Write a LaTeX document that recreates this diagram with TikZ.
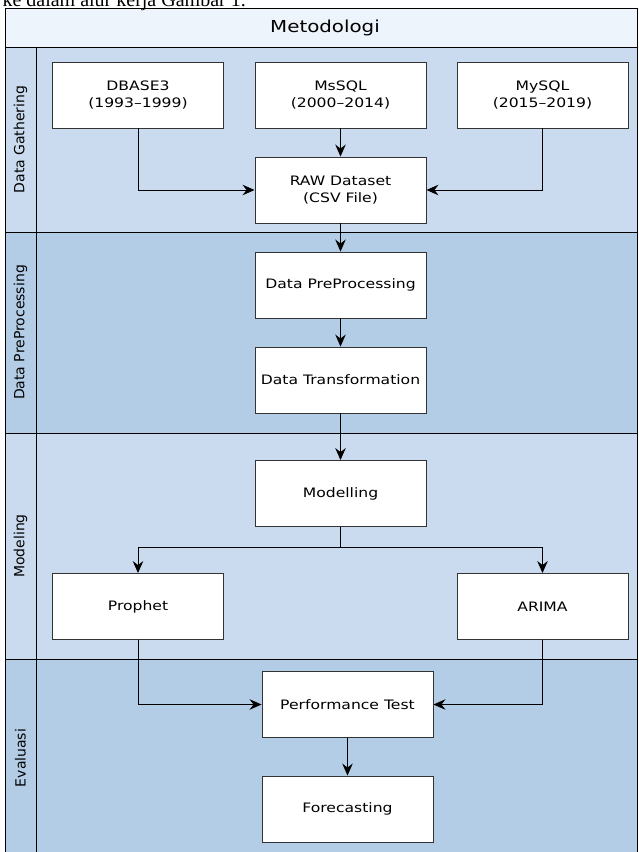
\documentclass[tikz,border=0pt]{standalone}
\usepackage{fontspec}
\setmainfont{DejaVu Sans}
\newfontfamily\boxfont{DejaVu Sans}[FakeStretch=1.2]
\newfontfamily\bodyserif{Liberation Serif}
\usetikzlibrary{arrows.meta}
\definecolor{titlefill}{RGB}{238,244,251}
\definecolor{lanelight}{RGB}{203,219,239}
\definecolor{lanedark}{RGB}{179,205,230}
\definecolor{boxline}{RGB}{51,51,51}

\begin{document}
\begin{tikzpicture}[x=1pt, y=-1pt,
    proc/.style={draw=boxline, fill=white, line width=0.9pt, minimum width=171pt,
      minimum height=66pt, align=center, inner sep=0pt, font=\boxfont\fontsize{13}{17}\selectfont},
    lanelabel/.style={rotate=90, font=\fontsize{14}{16}\selectfont},
    flow/.style={line width=0.9pt, -{Stealth[length=12pt, width=10.5pt, inset=4pt]}},
    border/.style={line width=0.9pt}]
    \clip (0,0) rectangle (638,852);
    % swimlanes
    \fill[titlefill] (5,8.5) rectangle (637,47);
    \fill[lanelight] (5,47) rectangle (637,232);
    \fill[lanedark] (5,232) rectangle (637,433);
    \fill[lanelight] (5,433) rectangle (637,659.5);
    \fill[lanedark] (5,659.5) rectangle (637,870);
    \draw[border] (5,870) -- (5,8.5) -- (637,8.5) -- (637,870);
    \draw[border] (5,47) -- (637,47);
    \draw[border] (5,232) -- (637,232);
    \draw[border] (5,433) -- (637,433);
    \draw[border] (5,659.5) -- (637,659.5);
    \draw[border] (36,47) -- (36,870);
    \node[anchor=base west, font=\bodyserif\fontsize{20}{24}\selectfont] (caption) at (-1,6.5) {ke dalam alur kerja Gambar 1.};
    \node[font=\boxfont\fontsize{16.5}{18}\selectfont] (title) at (325,27.5) {Metodologi};
    \node[lanelabel] (lgather) at (20.5,139.5) {Data Gathering};
    \node[lanelabel] (lprep) at (20.5,332.5) {Data PreProcessing};
    \node[lanelabel] (lmodel) at (20.5,546) {Modeling};
    \node[lanelabel] (leval) at (20.5,758) {Evaluasi};
    % data gathering
    \node[proc] (dbase) at (138,95) {DBASE3\\(1993–1999)};
    \node[proc] (mssql) at (340.5,95) {MsSQL\\(2000–2014)};
    \node[proc] (mysql) at (542.5,95) {MySQL\\(2015–2019)};
    \node[proc] (raw) at (340.5,190) {RAW Dataset\\(CSV File)};
    % preprocessing
    \node[proc] (prep) at (340.5,285) {Data PreProcessing};
    \node[proc] (trans) at (340.5,380) {Data Transformation};
    % modeling
    \node[proc] (model) at (340.5,493.5) {Modelling};
    \node[proc] (prophet) at (138,606.5) {Prophet};
    \node[proc] (arima) at (542.5,606.5) {ARIMA};
    \coordinate (split) at (340.5,547);
    % evaluasi
    \node[proc] (perf) at (347.5,704.5) {Performance Test};
    \node[proc] (fore) at (347.5,809) {Forecasting};
    % arrows
    \draw[flow] (dbase.south) |- (raw.west);
    \draw[flow] (mssql) -- (raw);
    \draw[flow] (mysql.south) |- (raw.east);
    \draw[flow] (raw) -- (prep);
    \draw[flow] (prep) -- (trans);
    \draw[flow] (trans) -- (model);
    \draw[line width=0.9pt] (model.south) -- (split);
    \draw[flow] (split) -| (prophet.north);
    \draw[flow] (split) -| (arima.north);
    \draw[flow] (prophet.south) |- (perf.west);
    \draw[flow] (arima.south) |- (perf.east);
    \draw[flow] (perf) -- (fore);
\end{tikzpicture}
\end{document}
